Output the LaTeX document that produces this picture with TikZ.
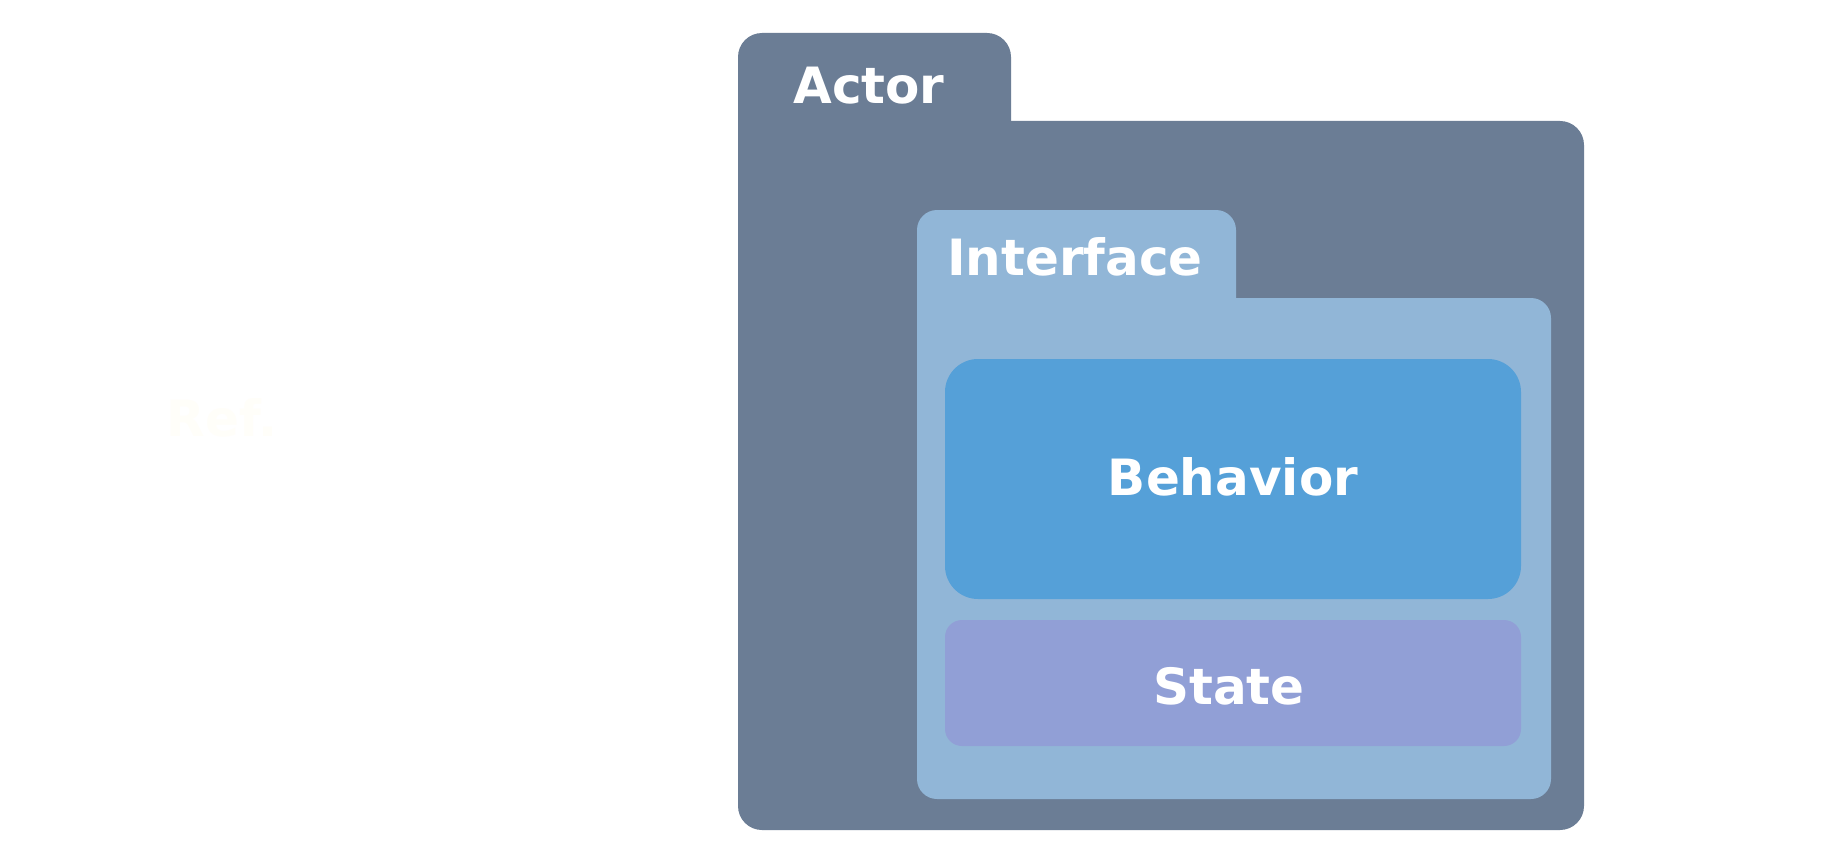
\documentclass[tikz,border=0pt]{standalone}
\usepackage{fontspec}
\setmainfont{DejaVu Sans}
\definecolor{actorc}{HTML}{6B7D95}
\definecolor{ifacec}{HTML}{91B6D7}
\definecolor{behavc}{HTML}{55A0D8}
\definecolor{statec}{HTML}{919FD6}
\definecolor{refc}{HTML}{FFFEF9}
\begin{document}
\begin{tikzpicture}[x=1pt,y=-1pt,
  lbl/.style={text=white,font=\fontsize{50}{60}\selectfont\bfseries,inner sep=0pt}]
\useasboundingbox[fill=white] (0,0) rectangle (1848,864);
% Actor folder
\fill[actorc,rounded corners=24] (738,33) rectangle (1011,220);
\fill[actorc,rounded corners=24] (738,121) rectangle (1584,830);
% Interface folder
\fill[ifacec,rounded corners=20] (917,210) rectangle (1236,380);
\fill[ifacec,rounded corners=20] (917,298) rectangle (1551,799);
% Behavior
\fill[behavc,rounded corners=33] (945,359) rectangle (1521,599);
% State
\fill[statec,rounded corners=17] (945,620) rectangle (1521,746);
% labels
\node[lbl] (actor) at (869,86) {Actor};
\node[lbl] (iface) at (1075,257) {Interface};
\node[lbl] (behav) at (1233,477) {Behavior};
\node[lbl] (state) at (1229,686) {State};
\node[lbl,text=refc] (ref) at (222,418) {Ref.};
\end{tikzpicture}
\end{document}
